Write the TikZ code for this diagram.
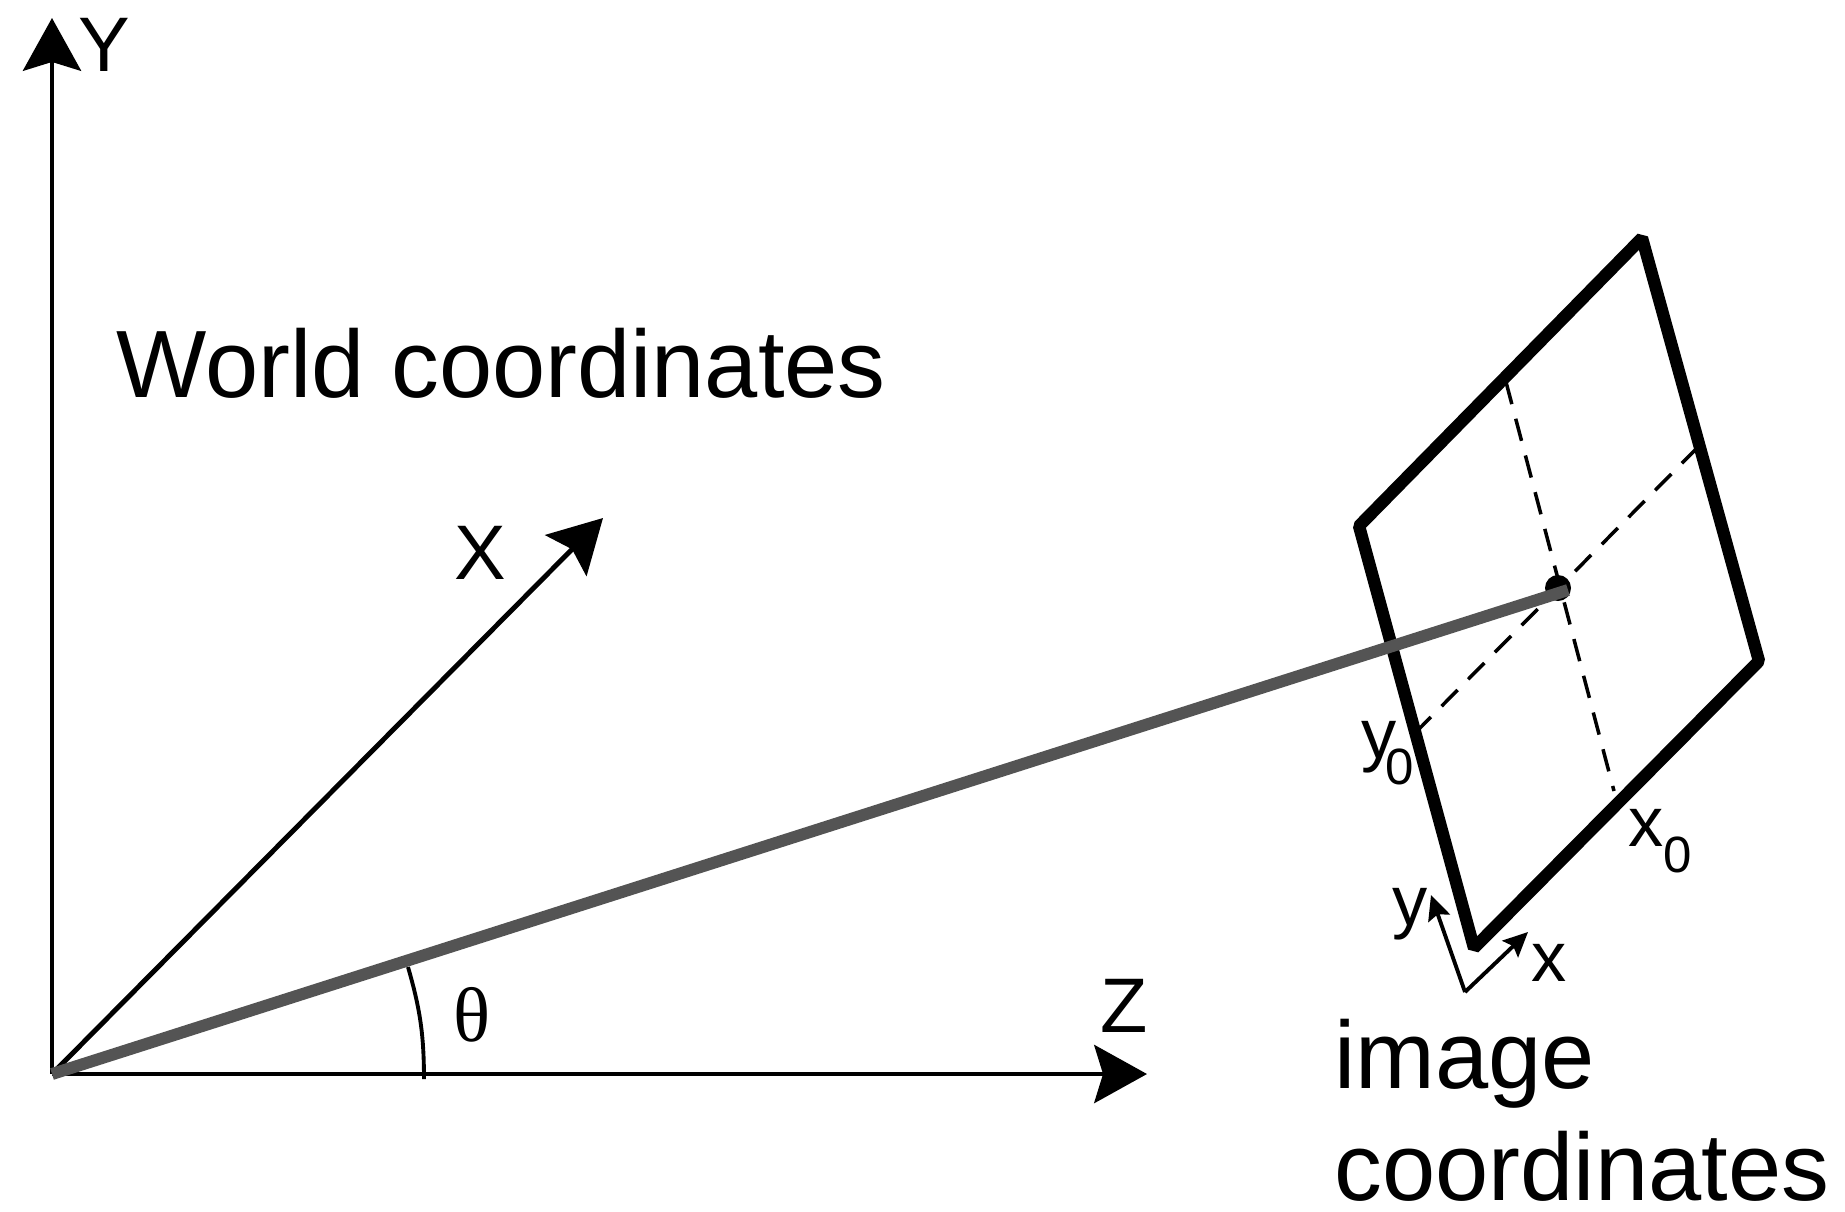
\documentclass[tikz,border=0pt]{standalone}
\usepackage{fontspec}
\setmainfont{Liberation Sans}
\newfontfamily\thetafont{Liberation Serif}
\usetikzlibrary{arrows.meta}
\newcommand{\subzero}{\raisebox{-7.4pt}{\fontsize{14.5}{16}\selectfont 0}}
\tikzset{
  axisline/.style={line width=1.4pt, -{Stealth[length=15pt, width=16.5pt, inset=2.5pt]}},
  smallaxis/.style={line width=1.1pt, -{Stealth[length=7pt, width=6.5pt, inset=1.2pt]}},
  bigtext/.style={font=\fontsize{27.2}{31.75}\selectfont, inner sep=0pt},
  axistext/.style={font=\fontsize{22}{26}\selectfont, inner sep=0pt},
  framelabel/.style={font=\fontsize{20}{24}\selectfont, inner sep=0pt},
  gridline/.style={line width=1pt, dash pattern=on 6.5pt off 4.3pt},
}
\begin{document}
\begin{tikzpicture}[x=0.01cm, y=-0.01cm]
    \useasboundingbox (0,0) rectangle (1845,1211);

    % World axes
    \coordinate (origin) at (52,1074);
    \coordinate (ytip) at (52,18);
    \coordinate (xtip) at (603,518);
    \coordinate (ztip) at (1147,1074);
    \draw[axisline] (origin) -- (ytip);
    \draw[axisline] (origin) -- (xtip);
    \draw[axisline] (origin) -- (ztip);
    \node[axistext] (ylabel) at (104,45) {Y};
    \node[axistext] (xlabel) at (480,553) {X};
    \node[axistext] (zlabel) at (1124,1006) {Z};

    % Angle
    \coordinate (arcstart) at (408,967);
    \coordinate (arcend) at (424,1079);
    \draw[line width=1.1pt] (arcstart) to[bend left=8] (arcend);
    \node[font=\fontsize{22}{26}\thetafont, inner sep=0pt] (theta) at (472,1015) {θ};

    \node[bigtext, anchor=base west] (world) at (116,397) {World coordinates};

    % Image plane
    \coordinate (ca) at (1359,526);
    \coordinate (cb) at (1642,238);
    \coordinate (cc) at (1759,661);
    \coordinate (cd) at (1474,948);
    \coordinate (ytick) at (1418,730);
    \coordinate (yend) at (1698,447);
    \coordinate (xtick) at (1614,791);
    \coordinate (xend) at (1506,382);
    \draw[gridline] (yend) -- (ytick);
    \draw[gridline] (xend) -- (xtick);
    \draw[line width=3.5pt, line join=bevel] (ca) -- (cb) -- (cc) -- (cd) -- cycle;

    % Ray to the point
    \node[circle, fill=black, inner sep=0pt, minimum size=7.4pt] (point) at (1558,588) {};
    \coordinate (rayend) at (1568,590);
    \draw[line width=3.4pt, color=black!67] (origin) -- (rayend);

    \node[framelabel, anchor=base west] (yzero) at (1361,758) {y\kern-3.2pt\subzero};
    \node[framelabel, anchor=base west] (xzero) at (1628,846) {x\subzero};

    % Image axes
    \coordinate (imgorigin) at (1465,992);
    \coordinate (imgy) at (1431,895);
    \coordinate (imgx) at (1528,932);
    \draw[smallaxis] (imgorigin) -- (imgy);
    \draw[smallaxis] (imgorigin) -- (imgx);
    \node[framelabel, anchor=base] (imgylabel) at (1410,925) {y};
    \node[framelabel, anchor=base] (imgxlabel) at (1549,981) {x};

    \node[bigtext, anchor=base west, align=left] (image) at (1334,1200) {image\\coordinates};
\end{tikzpicture}
\end{document}
